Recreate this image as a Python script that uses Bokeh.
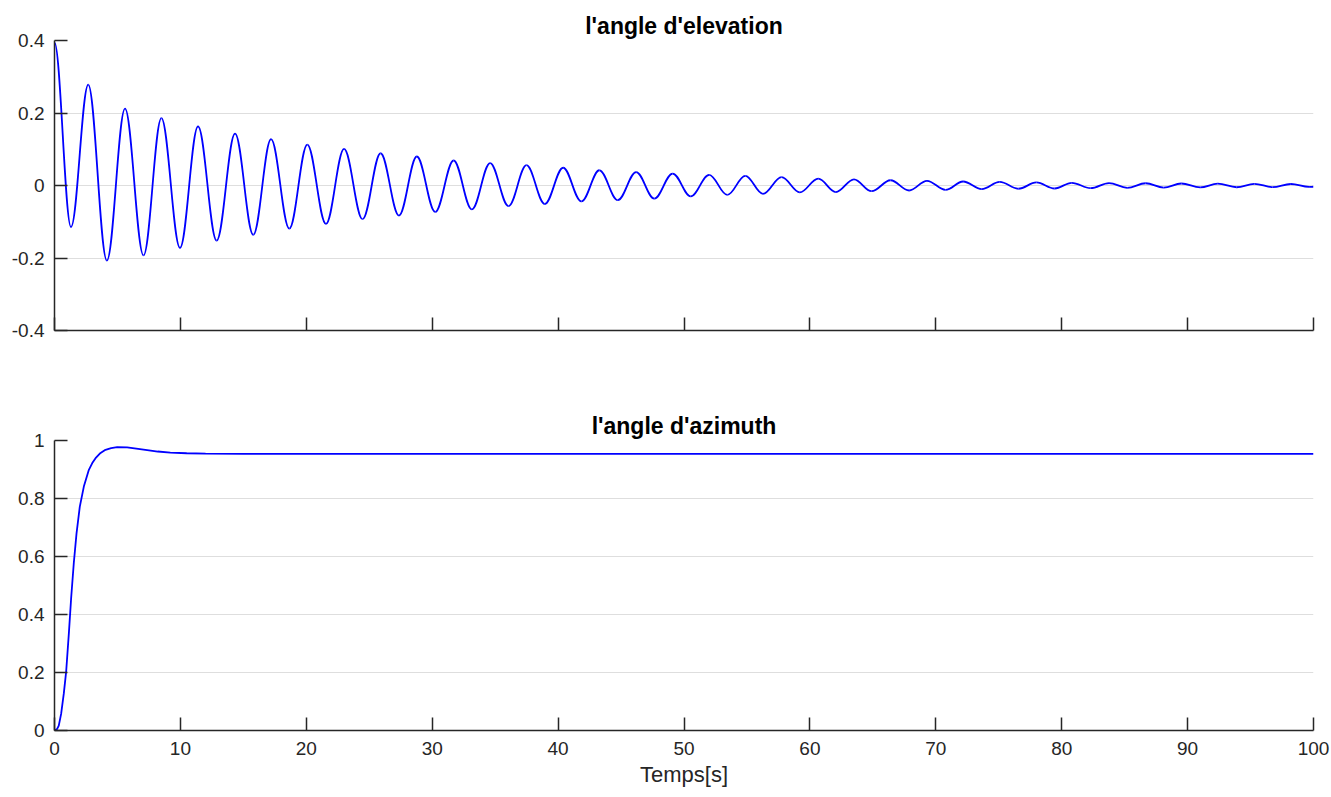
import numpy as np
from bokeh.plotting import figure
from bokeh.layouts import column
from bokeh.models import Range1d, FixedTicker, CustomJSTickFormatter, ColumnDataSource
from bokeh.embed import file_html
from bokeh.resources import INLINE

# ---------------------------------------------------------------------------
# Elevation angle: turning points of the damped oscillation (time [s], angle)
# ---------------------------------------------------------------------------
elev_peak_t = [0.00, 2.68, 5.60, 8.49, 11.40, 14.34, 17.20, 20.08, 23.00, 25.90,
               28.78, 31.70, 34.60, 37.49, 40.40, 43.28, 46.20, 49.10, 52.00, 54.87,
               57.75, 60.66, 63.50, 66.40, 69.30, 72.17, 75.08, 77.99, 80.80, 83.76,
               86.67, 89.50, 92.40, 95.30, 98.20]
elev_peak_v = [0.394, 0.278, 0.212, 0.186, 0.163, 0.143, 0.128, 0.113, 0.101, 0.089,
               0.080, 0.069, 0.062, 0.056, 0.049, 0.042, 0.037, 0.033, 0.0295, 0.0267,
               0.023, 0.019, 0.017, 0.0145, 0.013, 0.011, 0.010, 0.0085, 0.0074, 0.0068,
               0.0062, 0.0055, 0.0050, 0.0046, 0.0042]
elev_trough_t = [1.31, 4.16, 7.07, 9.97, 12.88, 15.79, 18.65, 21.56, 24.47, 27.36,
                 30.24, 33.15, 36.06, 38.94, 41.85, 44.74, 47.64, 50.53, 53.44, 56.27,
                 59.20, 62.06, 64.90, 67.88, 70.77, 73.65, 76.56, 79.44, 82.30, 85.20,
                 88.10, 91.00, 93.90, 96.75, 99.65]
elev_trough_v = [-0.1145, -0.207, -0.193, -0.172, -0.152, -0.136, -0.119, -0.106, -0.093, -0.083,
                 -0.073, -0.066, -0.057, -0.051, -0.044, -0.0405, -0.036, -0.030, -0.026, -0.023,
                 -0.019, -0.018, -0.0157, -0.0138, -0.012, -0.010, -0.009, -0.0083, -0.0074, -0.0064,
                 -0.0058, -0.0053, -0.0048, -0.0044, -0.0040]
elev_end_t = 100.0
elev_end_v = -0.0035

# ---------------------------------------------------------------------------
# Azimuth angle: step response (time [s], angle)
# ---------------------------------------------------------------------------
azim_t = [0.00, 0.20, 0.34, 0.53, 0.74, 0.93, 1.14, 1.32, 1.53, 1.75,
          2.01, 2.33, 2.73, 3.00, 3.26, 3.60, 4.05, 4.50, 4.98, 5.77,
          6.50, 7.36, 8.20, 9.20, 10.5, 12.0, 15.0, 20.0, 100.0]
azim_v = [0.000, 0.005, 0.017, 0.058, 0.128, 0.205, 0.335, 0.455, 0.576, 0.680,
          0.772, 0.841, 0.899, 0.922, 0.939, 0.955, 0.968, 0.974, 0.977, 0.976,
          0.972, 0.967, 0.962, 0.958, 0.956, 0.955, 0.954, 0.954, 0.954]

# Axis ticks and labels
time_ticks = [0, 10, 20, 30, 40, 50, 60, 70, 80, 90, 100]
time_labels = ["0", "10", "20", "30", "40", "50", "60", "70", "80", "90", "100"]
elev_ticks = [-0.4, -0.2, 0, 0.2, 0.4]
elev_labels = ["-0.4", "-0.2", "0", "0.2", "0.4"]
azim_ticks = [0, 0.2, 0.4, 0.6, 0.8, 1]
azim_labels = ["0", "0.2", "0.4", "0.6", "0.8", "1"]

FONT = "Liberation Sans"
AX_COLOR = "#262626"
CURVE = "#0000ff"
W = 1331


def style(p, yticks, ylabels, title):
    p.outline_line_color = None
    p.xgrid.visible = False
    p.ygrid.grid_line_color = "#dedede"
    p.ygrid.grid_line_width = 1
    p.title.text = title
    p.title.align = "center"
    p.title.text_font = FONT
    p.title.text_font_size = "23px"
    p.title.text_font_style = "bold"
    p.title.text_color = "black"
    p.title.standoff = 4
    for ax in (p.xaxis[0], p.yaxis[0]):
        ax.axis_line_color = AX_COLOR
        ax.axis_line_width = 1.5
        ax.major_tick_line_color = AX_COLOR
        ax.major_tick_line_width = 1.5
        ax.major_tick_in = 13
        ax.major_tick_out = 0
        ax.minor_tick_line_color = None
        ax.major_label_text_font = FONT
        ax.major_label_text_font_size = "19px"
        ax.major_label_text_color = AX_COLOR
    p.xaxis.ticker = FixedTicker(ticks=time_ticks)
    p.yaxis.ticker = FixedTicker(ticks=yticks)
    p.yaxis.major_label_overrides = dict(zip(yticks, ylabels))
    p.yaxis.major_label_standoff = 10


# --- top panel: elevation -------------------------------------------------
top = figure(width=W, height=385, output_backend="svg", toolbar_location=None,
             x_range=Range1d(0, 100), y_range=Range1d(-0.4, 0.4),
             min_border_left=54, min_border_right=18,
             min_border_top=40, min_border_bottom=55)
style(top, elev_ticks, elev_labels, "l'angle d'elevation")
top.xaxis.formatter = CustomJSTickFormatter(code="return ''")

# Turning points in time order: peak, trough, peak, trough, ..., then the end sample
pts_t, pts_v = [], []
for pt, pv, tt, tv in zip(elev_peak_t, elev_peak_v, elev_trough_t, elev_trough_v):
    pts_t += [pt, tt]
    pts_v += [pv, tv]
pts_t.append(elev_end_t)
pts_v.append(elev_end_v)
pts_t = np.array(pts_t)
pts_v = np.array(pts_v)

# Each swing between two turning points is a cubic Bezier with flat ends
K = 0.3634
t0, t1 = pts_t[:-1], pts_t[1:]
v0, v1 = pts_v[:-1], pts_v[1:]
dt = t1 - t0
swing = ColumnDataSource(dict(x0=t0, y0=v0, x1=t1, y1=v1,
                              cx0=t0 + K * dt, cy0=v0,
                              cx1=t1 - K * dt, cy1=v1))
top.bezier(x0="x0", y0="y0", x1="x1", y1="y1", cx0="cx0", cy0="cy0",
           cx1="cx1", cy1="cy1", source=swing, line_color=CURVE, line_width=1.8)

# --- bottom panel: azimuth ------------------------------------------------
bot = figure(width=W, height=412, output_backend="svg", toolbar_location=None,
             x_range=Range1d(0, 100), y_range=Range1d(0, 1),
             min_border_left=54, min_border_right=18,
             min_border_top=55, min_border_bottom=67)
style(bot, azim_ticks, azim_labels, "l'angle d'azimuth")
bot.xaxis.major_label_overrides = dict(zip(time_ticks, time_labels))
bot.xaxis.major_label_standoff = 11
bot.xaxis.axis_label = "Temps[s]"
bot.xaxis.axis_label_text_font = FONT
bot.xaxis.axis_label_text_font_size = "22px"
bot.xaxis.axis_label_text_font_style = "normal"
bot.xaxis.axis_label_text_color = AX_COLOR
bot.xaxis.axis_label_standoff = 4
bot.line(azim_t, azim_v, line_color=CURVE, line_width=1.8)

layout = column(top, bot, spacing=0)
open("out.html", "w").write(file_html(layout, INLINE))
